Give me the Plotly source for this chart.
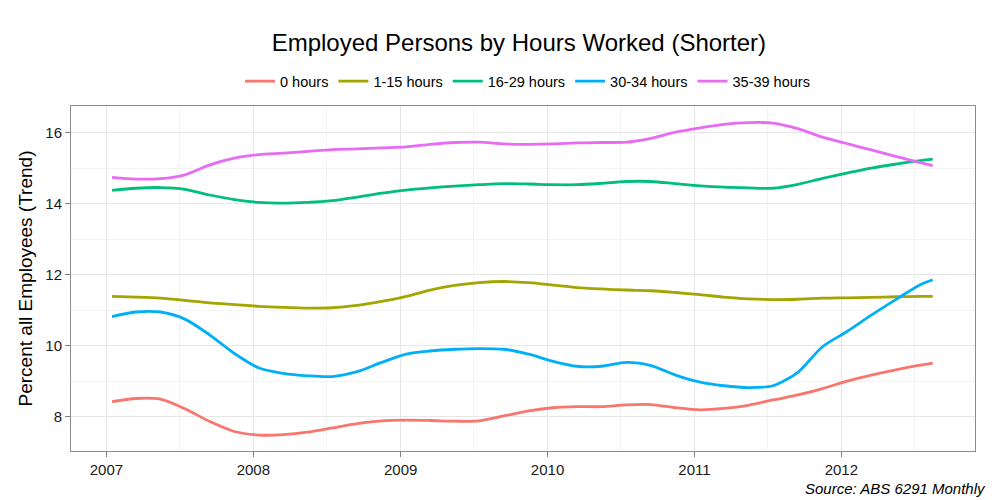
import plotly.graph_objects as go

# Sample dates (mid-month, every second month)
dates = [
    "2007-01-15", "2007-03-15", "2007-05-15", "2007-07-15", "2007-09-15", "2007-11-15",
    "2008-01-15", "2008-03-15", "2008-05-15", "2008-07-15", "2008-09-15", "2008-11-15",
    "2009-01-15", "2009-03-15", "2009-05-15", "2009-07-15", "2009-09-15", "2009-11-15",
    "2010-01-15", "2010-03-15", "2010-05-15", "2010-07-15", "2010-09-15", "2010-11-15",
    "2011-01-15", "2011-03-15", "2011-05-15", "2011-07-15", "2011-09-15", "2011-11-15",
    "2012-01-15", "2012-03-15", "2012-05-15", "2012-07-15", "2012-08-15",
]

hours_0 = [
    8.42, 8.51, 8.49, 8.22, 7.86, 7.58,
    7.48, 7.49, 7.56, 7.68, 7.80, 7.88,
    7.90, 7.89, 7.87, 7.88, 8.02, 8.16,
    8.25, 8.28, 8.28, 8.33, 8.34, 8.25,
    8.19, 8.23, 8.32, 8.47, 8.61, 8.79,
    9.00, 9.17, 9.32, 9.45, 9.51,
]

hours_1_15 = [
    11.39, 11.37, 11.34, 11.28, 11.21, 11.16,
    11.11, 11.08, 11.06, 11.07, 11.14, 11.25,
    11.39, 11.57, 11.70, 11.78, 11.81, 11.78,
    11.71, 11.64, 11.60, 11.57, 11.55, 11.50,
    11.44, 11.37, 11.32, 11.30, 11.31, 11.34,
    11.35, 11.36, 11.38, 11.39, 11.39,
]

hours_16_29 = [
    14.38, 14.44, 14.46, 14.41, 14.25, 14.12,
    14.04, 14.02, 14.04, 14.09, 14.19, 14.30,
    14.39, 14.45, 14.50, 14.54, 14.57, 14.56,
    14.54, 14.54, 14.58, 14.63, 14.63, 14.57,
    14.51, 14.47, 14.45, 14.44, 14.55, 14.72,
    14.87, 15.01, 15.12, 15.22, 15.26,
]

hours_30_34 = [
    10.82, 10.95, 10.95, 10.75, 10.30, 9.78,
    9.37, 9.22, 9.15, 9.13, 9.27, 9.53,
    9.76, 9.85, 9.90, 9.92, 9.90, 9.76,
    9.56, 9.42, 9.42, 9.53, 9.44, 9.17,
    8.97, 8.87, 8.82, 8.87, 9.25, 9.97,
    10.40, 10.86, 11.30, 11.72, 11.86,
]

hours_35_39 = [
    14.75, 14.70, 14.71, 14.82, 15.10, 15.29,
    15.39, 15.43, 15.48, 15.53, 15.55, 15.58,
    15.61, 15.68, 15.73, 15.74, 15.69, 15.68,
    15.69, 15.72, 15.73, 15.74, 15.85, 16.02,
    16.14, 16.24, 16.29, 16.28, 16.12, 15.88,
    15.70, 15.52, 15.34, 15.16, 15.08,
]

series_names = ["0 hours", "1-15 hours", "16-29 hours", "30-34 hours", "35-39 hours"]
series_values = [hours_0, hours_1_15, hours_16_29, hours_30_34, hours_35_39]
colors = ["#F8766D", "#A3A500", "#00BF7D", "#00B0F6", "#E76BF3"]

fig = go.Figure()

for name, vals, col in zip(series_names, series_values, colors):
    fig.add_trace(go.Scatter(
        x=dates, y=vals, name=name, mode="lines",
        line=dict(color=col, width=2.8, shape="spline", smoothing=0.8),
    ))

# page has an 8px body margin, so the figure is drawn a bit smaller
fig.update_layout(
    width=992, height=492,
    margin=dict(l=63, r=25, t=98, b=49),
    paper_bgcolor="white", plot_bgcolor="white",
    font=dict(family="Liberation Sans, Arial, sans-serif", size=15, color="#1a1a1a"),
    title=dict(text="Employed Persons by Hours Worked (Shorter)",
               x=0.515, xanchor="center", y=0.93, yanchor="middle",
               font=dict(size=24, color="black")),
    legend=dict(orientation="h", x=0.505, xanchor="center", y=1.072, yanchor="middle",
                font=dict(size=14.5, color="black"), tracegroupgap=0),
    showlegend=True,
)

fig.update_xaxes(
    type="date", range=["2006-10-05", "2012-11-28"],
    tick0="2007-01-01", dtick="M12", tickformat="%Y",
    ticks="outside", ticklen=5, tickcolor="#7f7f7f",
    showline=True, linecolor="#8c8c8c", linewidth=1, mirror=True,
    showgrid=True, gridcolor="#e6e6e6", gridwidth=1,
    minor=dict(dtick="M6", tick0="2007-01-01", showgrid=True, gridcolor="#f3f3f3", gridwidth=1),
    zeroline=False, tickfont=dict(size=15, color="#1a1a1a"),
)

fig.update_yaxes(
    range=[7.03, 16.76], tickvals=[8, 10, 12, 14, 16],
    ticks="outside", ticklen=5, tickcolor="#7f7f7f",
    showline=True, linecolor="#8c8c8c", linewidth=1, mirror=True,
    showgrid=True, gridcolor="#e6e6e6", gridwidth=1,
    minor=dict(tickvals=[7, 9, 11, 13, 15], showgrid=True, gridcolor="#f3f3f3", gridwidth=1),
    zeroline=False, tickfont=dict(size=15, color="#1a1a1a"),
    title=dict(text="Percent all Employees (Trend)", font=dict(size=19, color="black"), standoff=7),
)

fig.add_annotation(
    text="<i>Source: ABS 6291 Monthly</i>",
    xref="paper", yref="paper", x=1.0145, y=-0.110,
    xanchor="right", yanchor="middle", showarrow=False,
    font=dict(size=15, color="black"),
)

fig.write_html("out.html")
